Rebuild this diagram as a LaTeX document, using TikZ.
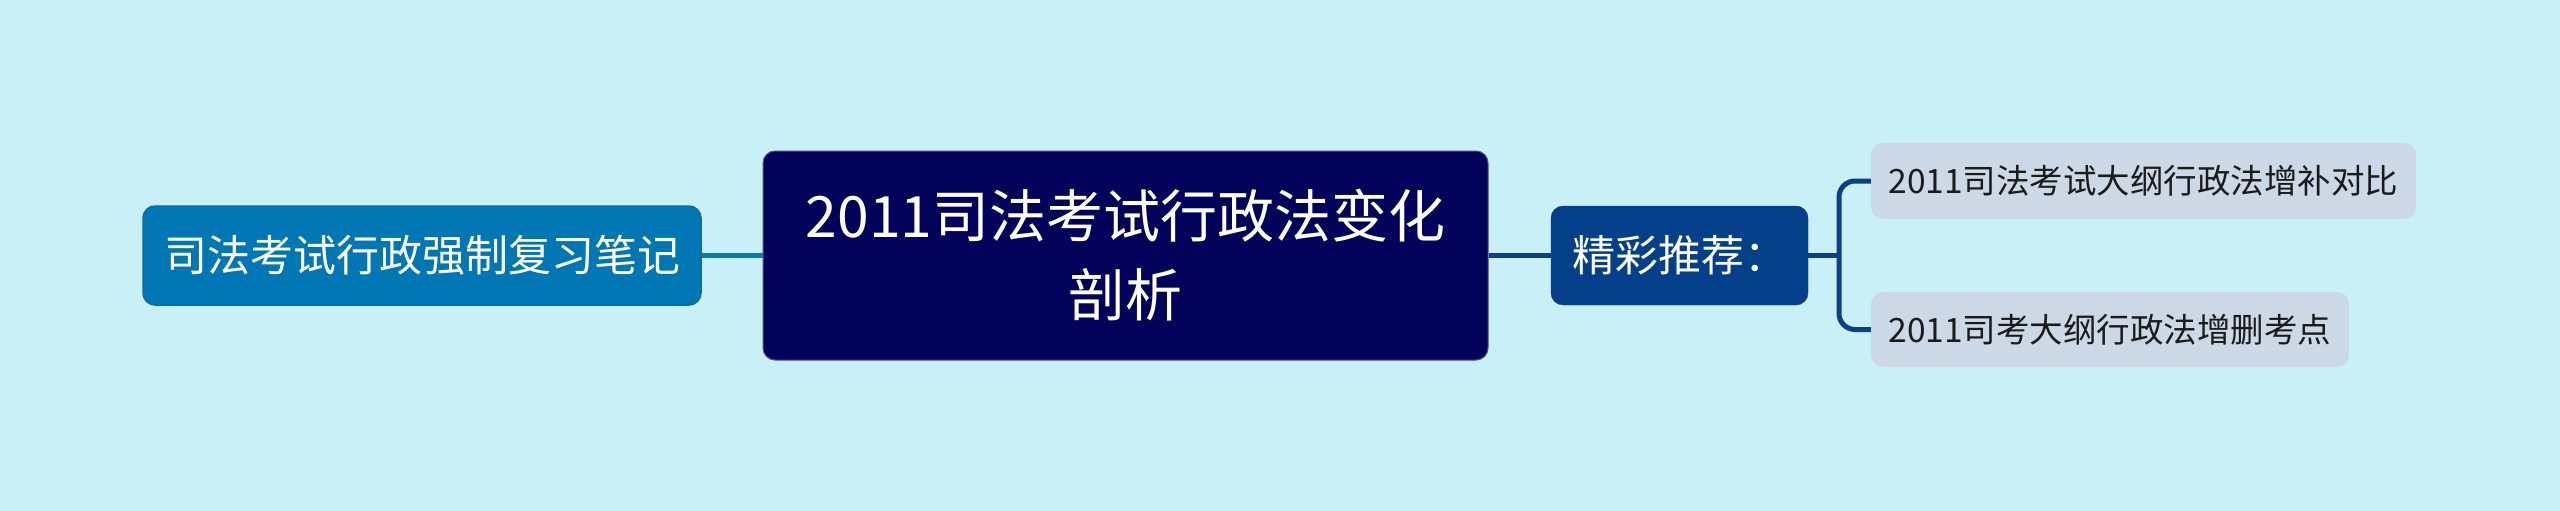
\documentclass[tikz,border=0pt]{standalone}
\usepackage{fontspec}
\setmainfont{Noto Sans CJK SC}
\definecolor{bg}{HTML}{C9EFF7}
\definecolor{lnode}{HTML}{0077B5}
\definecolor{lborder}{HTML}{0A6BA6}
\definecolor{cnode}{HTML}{02025A}
\definecolor{rnode}{HTML}{043F8A}
\definecolor{leaf}{HTML}{CCD8E6}
\definecolor{leaftext}{HTML}{1A1A1A}
\definecolor{lconn}{HTML}{0B77B3}
\definecolor{rconn}{HTML}{0A3F8A}
\tikzset{
  box/.style={rounded corners=12pt, inner sep=0pt, align=center},
  connl/.style={draw=lconn, line width=5pt},
  connr/.style={draw=rconn, line width=5pt},
}
\begin{document}
\begin{tikzpicture}[x=1pt,y=-1pt]
\fill[bg] (0,0) rectangle (2560,511);
\useasboundingbox (0,0) rectangle (2560,511);
\node[box, fill=lnode, draw=lborder, line width=1.5pt, minimum width=558pt, minimum height=99pt, text=white, font=\fontsize{43pt}{50pt}\selectfont] (left) at (422,255.5) {司法考试行政强制复习笔记};
\node[box, fill=cnode, draw=cnode!70!white, line width=1pt, minimum width=725pt, minimum height=209pt, text=white, font=\fontsize{57pt}{79pt}\selectfont] (center) at (1125.5,255.5) {2011司法考试行政法变化\\剖析};
\node[box, fill=rnode, draw=rnode, minimum width=257pt, minimum height=99pt, text=white, font=\fontsize{43pt}{50pt}\selectfont] (rec) at (1679.5,255.5) {精彩推荐：};
\node[box, fill=leaf, minimum width=545pt, minimum height=76pt, text=leaftext, font=\fontsize{33.5pt}{40pt}\selectfont] (leafa) at (2143.5,181) {2011司法考试大纲行政法增补对比};
\node[box, fill=leaf, minimum width=478pt, minimum height=75pt, text=leaftext, font=\fontsize{33.5pt}{40pt}\selectfont] (leafb) at (2110,329.5) {2011司考大纲行政法增删考点};
\coordinate (spine) at (1839,255.5);
\draw[connl] (left.east) -- (center.west);
\draw[connr] (center.east) -- (rec.west);
\draw[connr] (rec.east) -- (spine);
\draw[connr, rounded corners=16pt] (leafa.west) -| (spine) |- (leafb.west);
\end{tikzpicture}
\end{document}
